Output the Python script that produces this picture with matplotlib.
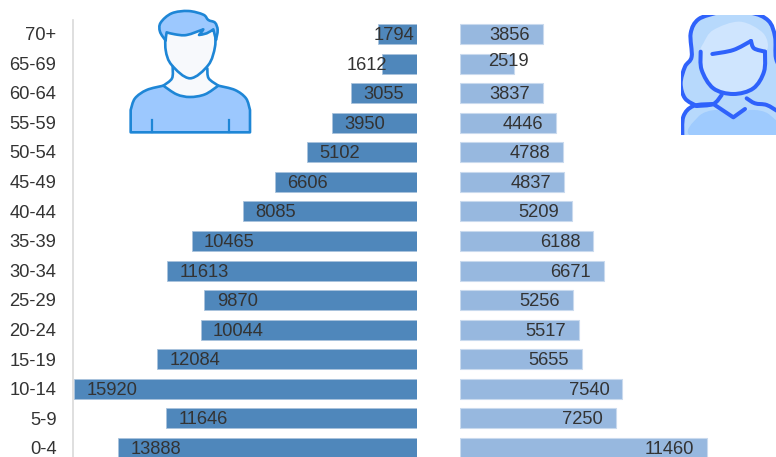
import matplotlib
matplotlib.use("Agg")
import matplotlib.pyplot as plt
import numpy as np
from matplotlib.patches import PathPatch, Rectangle
from matplotlib.path import Path

plt.rcParams["font.family"] = ["Liberation Sans", "DejaVu Sans"]

ages = ["0-4", "5-9", "10-14", "15-19", "20-24", "25-29", "30-34", "35-39",
        "40-44", "45-49", "50-54", "55-59", "60-64", "65-69", "70+"]
male = [13888, 11646, 15920, 12084, 10044, 9870, 11613, 10465,
        8085, 6606, 5102, 3950, 3055, 1612, 1794]
female = [11460, 7250, 7540, 5655, 5517, 5256, 6671, 6188,
          5209, 4837, 4788, 4446, 3837, 2519, 3856]

W, H = 776, 457
PX_PER_UNIT = 343 / 15920
PITCH = 29.57
MALE_C, MALE_L = "#4F87BB", "#A9C3DD"
FEMALE_C, FEMALE_L = "#97B8DF", "#C9DAEE"
TEXT = "#333333"
FS = 13.2

fig = plt.figure(figsize=(W / 100, H / 100), dpi=100)


def make_axes(left, right):
    ax = fig.add_axes([left / W, 0, (right - left) / W, 1])
    ax.set_ylim(-9 / PITCH, 14 + 34 / PITCH)
    ax.patch.set_alpha(0)
    for s in ax.spines.values():
        s.set_visible(False)
    ax.set_xticks([])
    ax.set_yticks([])
    return ax


ax_m = make_axes(73, 417)
ax_m.set_xlim(344 / PX_PER_UNIT, 0)
ax_f = make_axes(460, 776)
ax_f.set_xlim(0, 316 / PX_PER_UNIT)
y = np.arange(len(ages))
BAR_H = 20 / PITCH

ax_m.barh(y, male, height=BAR_H, color=MALE_C, edgecolor=MALE_L, linewidth=0.6)
ax_f.barh(y, female, height=BAR_H, color=FEMALE_C, edgecolor=FEMALE_L, linewidth=0.8)

# labels sit inside the bar end, apart from the small ones that were moved
for i, v in enumerate(male):
    x = v - 12.5 / PX_PER_UNIT
    if ages[i] == "70+":
        x = v + 4.5 / PX_PER_UNIT
    if ages[i] == "65-69":
        x = v + 35.5 / PX_PER_UNIT
    ax_m.text(x, i - 0.05, str(v), ha="left", va="center", fontsize=FS, color=TEXT)
for i, v in enumerate(female):
    x = v - 13 / PX_PER_UNIT
    yy = i - 0.05
    if ages[i] == "65-69":
        x = v + 14 / PX_PER_UNIT
        yy = i + 0.06
    ax_f.text(x, yy, str(v), ha="right", va="center", fontsize=FS, color=TEXT)

# pixel overlay for axis line, age labels and the two icons
ov = fig.add_axes([0, 0, 1, 1])
ov.set_xlim(0, W)
ov.set_ylim(H, 0)
ov.axis("off")
ov.patch.set_alpha(0)
ov.plot([73, 73], [20, H], color="#D9D9D9", lw=1.2)
for i, lab in enumerate(ages):
    ov.text(56.5, 450 - i * 29.6, lab, ha="right", va="center", fontsize=FS, color=TEXT)


def smooth(pts, closed=False):
    pts = np.array(pts, float)
    n = len(pts)
    get = (lambda k: pts[k % n]) if closed else (lambda k: pts[min(max(k, 0), n - 1)])
    verts = [pts[0]]
    codes = [Path.MOVETO]
    for k in range(n if closed else n - 1):
        p0, p1, p2, p3 = get(k - 1), get(k), get(k + 1), get(k + 2)
        verts += [p1 + (p2 - p0) / 6, p2 - (p3 - p1) / 6, p2]
        codes += [Path.CURVE4] * 3
    return Path(verts, codes)


def join(*parts):
    # glue smooth pieces end to end into one closed outline, corners stay sharp
    verts = [parts[0].vertices[0]]
    codes = [Path.MOVETO]
    for part in parts:
        verts += list(part.vertices[1:])
        codes += list(part.codes[1:])
    verts.append(verts[0])
    codes.append(Path.CLOSEPOLY)
    return Path(verts, codes)


def m_pts(pts):
    return [(x / 3, y / 3) for x, y in pts]


def f_pts(pts):
    return [(450 + x / 3, y / 3) for x, y in pts]


def draw(path, fc="none", ec="none", lw=0, clip=None, zorder=5):
    p = PathPatch(path, facecolor=fc, edgecolor=ec, linewidth=lw, zorder=zorder,
                  capstyle="round", joinstyle="round")
    ov.add_patch(p)
    if clip is not None:
        p.set_clip_path(clip)
    return p


# male icon
BLUE, SHIRT, SKIN = "#1E86D6", "#9CC8FE", "#F7F9FC"
draw(smooth(m_pts([(497, 90), (497, 150), (515, 195), (570, 235), (625, 195), (645, 140), (645, 90)])),
     fc=SKIN, ec=BLUE, lw=1.9)
draw(Path(m_pts([(518, 195), (518, 235), (490, 257), (570, 300), (655, 257), (625, 235), (622, 195)])),
     fc=SKIN, zorder=4)
draw(smooth(m_pts([(518, 200), (516, 235), (490, 257)])), ec=BLUE, lw=1.9)
draw(smooth(m_pts([(622, 205), (626, 235), (655, 257)])), ec=BLUE, lw=1.9)
hair_top = smooth(m_pts([(497, 122), (480, 95), (482, 68), (515, 40), (565, 33), (610, 44), (625, 60), (645, 68), (653, 90), (648, 120)]))
hair_r = smooth(m_pts([(648, 120), (643, 100), (640, 88)]))
notch = smooth(m_pts([(640, 88), (620, 100), (597, 105)]))
notch2 = smooth(m_pts([(597, 105), (604, 97), (610, 88)]))
fringe = smooth(m_pts([(610, 88), (560, 105), (525, 103), (500, 97)]))
hair_l = smooth(m_pts([(500, 97), (498, 110), (497, 122)]))
draw(join(hair_top, hair_r, notch, notch2, fringe, hair_l), fc=SHIRT, ec=BLUE, lw=1.9, zorder=6)
body_l = smooth(m_pts([(392, 330), (405, 295), (440, 270), (490, 257)]))
neck = smooth(m_pts([(490, 257), (530, 283), (570, 291), (615, 283), (655, 257)]))
body_r = smooth(m_pts([(655, 257), (705, 270), (738, 295), (750, 330)]))
body_b = Path(m_pts([(750, 330), (750, 397), (392, 397)]))
body_b.codes = [Path.MOVETO, Path.LINETO, Path.LINETO]
draw(join(body_l, neck, body_r, body_b), fc=SHIRT, ec=BLUE, lw=1.9)
for sx in (457, 686):
    ov.plot([sx / 3, sx / 3], [120, 132], color=BLUE, lw=1.6, zorder=6)

# female icon, cropped at the top, bottom and right edge
clip = Rectangle((681, 15), 95, 120, transform=ov.transData)
F_EDGE, F_HAIR, F_FACE, F_BODY = "#2F62FB", "#B7D9FC", "#CFE5FE", "#9FCBFE"
hair_out = smooth(f_pts([(697, 410), (700, 350), (722, 318), (705, 295), (692, 250), (705, 200), (725, 170),
                         (722, 100), (745, 58), (800, 38), (900, 38), (955, 62), (975, 110),
                         (978, 175), (1010, 250), (1010, 410)]))
hair_b = Path(f_pts([(1010, 410), (697, 410)]))
hair_b.codes = [Path.MOVETO, Path.LINETO]
draw(join(hair_out, hair_b), fc=F_HAIR, clip=clip)
draw(smooth(f_pts([(740, 318), (705, 295), (692, 250), (705, 200), (725, 170), (722, 100), (745, 58), (800, 38)])),
     ec=F_EDGE, lw=2.9, clip=clip, zorder=7)
draw(smooth(f_pts([(800, 38), (900, 38), (955, 62), (975, 110), (978, 175), (1000, 220)])),
     ec=F_EDGE, lw=2.9, clip=clip, zorder=7)
draw(smooth(f_pts([(740, 318), (790, 312), (815, 285)])), ec=F_EDGE, lw=2.9, clip=clip, zorder=7)
draw(smooth(f_pts([(760, 130), (790, 90), (870, 65), (940, 100), (950, 150), (890, 150), (790, 160), (752, 155)]), closed=True),
     fc=F_FACE, clip=clip, zorder=6)
draw(smooth(f_pts([(752, 155), (755, 210), (790, 265), (850, 282), (910, 265), (942, 215), (945, 155),
                   (905, 145), (850, 150), (790, 160)]), closed=True), fc=F_FACE, clip=clip, zorder=6)
draw(smooth(f_pts([(752, 155), (755, 210), (790, 265), (850, 282), (910, 265), (942, 215), (945, 155)])),
     ec=F_EDGE, lw=2.9, clip=clip, zorder=8)
draw(smooth(f_pts([(787, 162), (850, 150), (903, 123)])), ec=F_EDGE, lw=2.9, clip=clip, zorder=8)
draw(smooth(f_pts([(903, 123), (912, 145), (945, 155)])), ec=F_EDGE, lw=2.9, clip=clip, zorder=8)
draw(smooth(f_pts([(730, 410), (745, 350), (800, 330), (850, 352), (900, 330), (960, 345), (990, 410)]), closed=True),
     fc=F_BODY, clip=clip, zorder=6)
draw(smooth(f_pts([(697, 410), (700, 350), (730, 318), (790, 312)])), ec=F_EDGE, lw=2.9, clip=clip, zorder=8)
draw(Path(f_pts([(790, 312), (850, 352), (885, 327)])), ec=F_EDGE, lw=2.9, clip=clip, zorder=8)
draw(smooth(f_pts([(890, 295), (915, 310), (950, 315), (985, 335)])), ec=F_EDGE, lw=2.9, clip=clip, zorder=8)

fig.savefig("out.png", dpi=100)
